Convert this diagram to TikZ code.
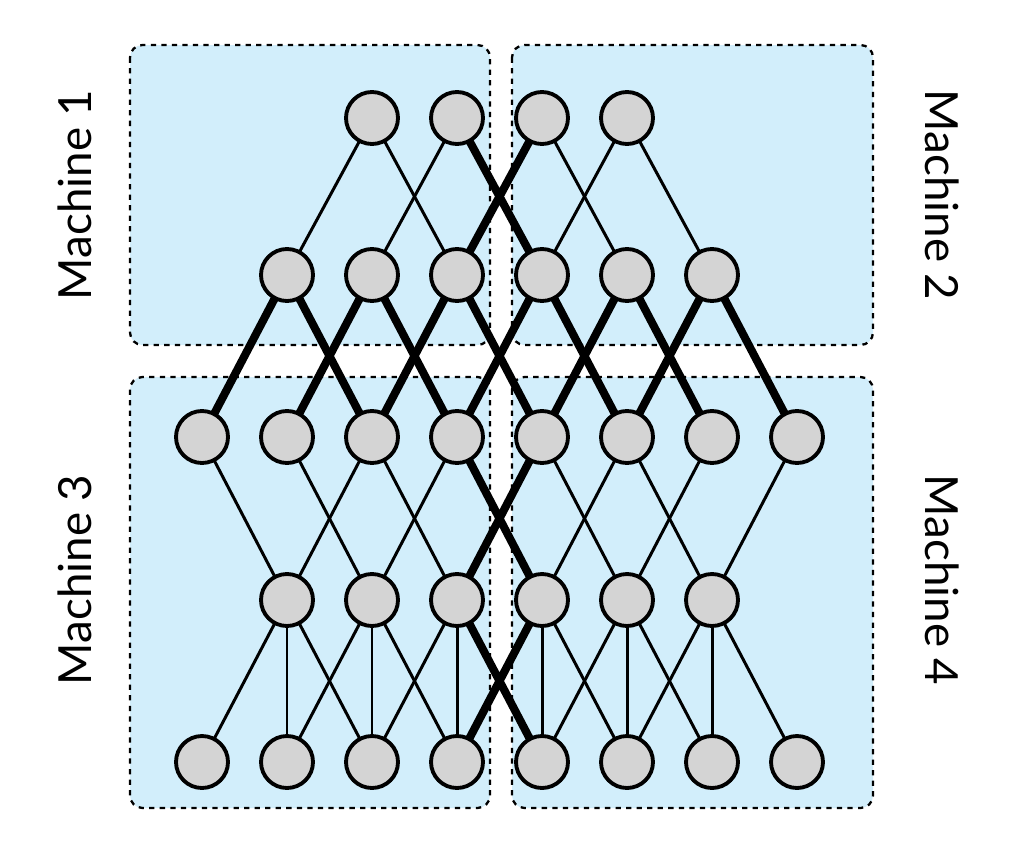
\documentclass[tikz,border=0pt]{standalone}
\usepackage{fontspec}
\setmainfont{Lato}
\usetikzlibrary{positioning}
\definecolor{machblue}{HTML}{D2EEFB}
\definecolor{nodegray}{HTML}{D4D4D4}
\begin{document}
\begin{tikzpicture}[x=0.02cm, y=-0.02cm,
    unit/.style={circle, draw, fill=nodegray, line width=2.2pt, minimum size=1.04cm, inner sep=0},
    thin/.style={line width=1.7pt},
    heavy/.style={line width=4.6pt},
    machine/.style={draw, dashed, line width=1.3pt, fill=machblue, rounded corners=0.25cm},
    mlabel/.style={font=\fontsize{26}{30}\selectfont}
  ]
    \useasboundingbox (0,0) rectangle (1020,862);
    \draw[machine] (130,45) rectangle (490,345);
    \draw[machine] (512,45) rectangle (873,345);
    \draw[machine] (130,377) rectangle (490,808);
    \draw[machine] (512,377) rectangle (873,808);
    \node[mlabel, rotate=90] (m1) at (75,195) {Machine 1};
    \node[mlabel, rotate=-90] (m2) at (942,195) {Machine 2};
    \node[mlabel, rotate=90] (m3) at (75,580) {Machine 3};
    \node[mlabel, rotate=-90] (m4) at (942,580) {Machine 4};
    % edges first, nodes on top
    \foreach \c in {2,...,5} \coordinate (a\c) at (202+85*\c,118);
    \foreach \c in {1,...,6} \coordinate (b\c) at (202+85*\c,275);
    \foreach \c in {0,...,7} \coordinate (c\c) at (202+85*\c,437);
    \foreach \c in {1,...,6} \coordinate (d\c) at (202+85*\c,600);
    \foreach \c in {0,...,7} \coordinate (e\c) at (202+85*\c,762);
    \foreach \c in {2,5} \draw[thin] (a\c) -- (b\the\numexpr\c-1\relax) (a\c) -- (b\the\numexpr\c+1\relax);
    \draw[thin] (a3) -- (b2) (a4) -- (b5);
    \draw[heavy] (a3) -- (b4) (a4) -- (b3);
    \foreach \c in {1,...,6} \draw[heavy] (b\c) -- (c\the\numexpr\c-1\relax) (b\c) -- (c\the\numexpr\c+1\relax);
    \foreach \c in {0,1,2,5,6,7} {
      \ifnum\c>1 \draw[thin] (c\c) -- (d\the\numexpr\c-1\relax); \fi
      \ifnum\c<6 \draw[thin] (c\c) -- (d\the\numexpr\c+1\relax); \fi
    }
    \draw[thin] (c3) -- (d2) (c4) -- (d5);
    \draw[heavy] (c3) -- (d4) (c4) -- (d3);
    \foreach \c in {1,...,6} \draw[thin] (d\c) -- (e\c);
    \foreach \c in {1,2,5,6} \draw[thin] (d\c) -- (e\the\numexpr\c-1\relax) (d\c) -- (e\the\numexpr\c+1\relax);
    \draw[thin] (d3) -- (e2) (d4) -- (e5);
    \draw[heavy] (d3) -- (e4) (d4) -- (e3);
    \foreach \c in {2,...,5} \node[unit] (na\c) at (a\c) {};
    \foreach \c in {1,...,6} \node[unit] (nb\c) at (b\c) {};
    \foreach \c in {0,...,7} \node[unit] (nc\c) at (c\c) {};
    \foreach \c in {1,...,6} \node[unit] (nd\c) at (d\c) {};
    \foreach \c in {0,...,7} \node[unit] (ne\c) at (e\c) {};
\end{tikzpicture}
\end{document}
